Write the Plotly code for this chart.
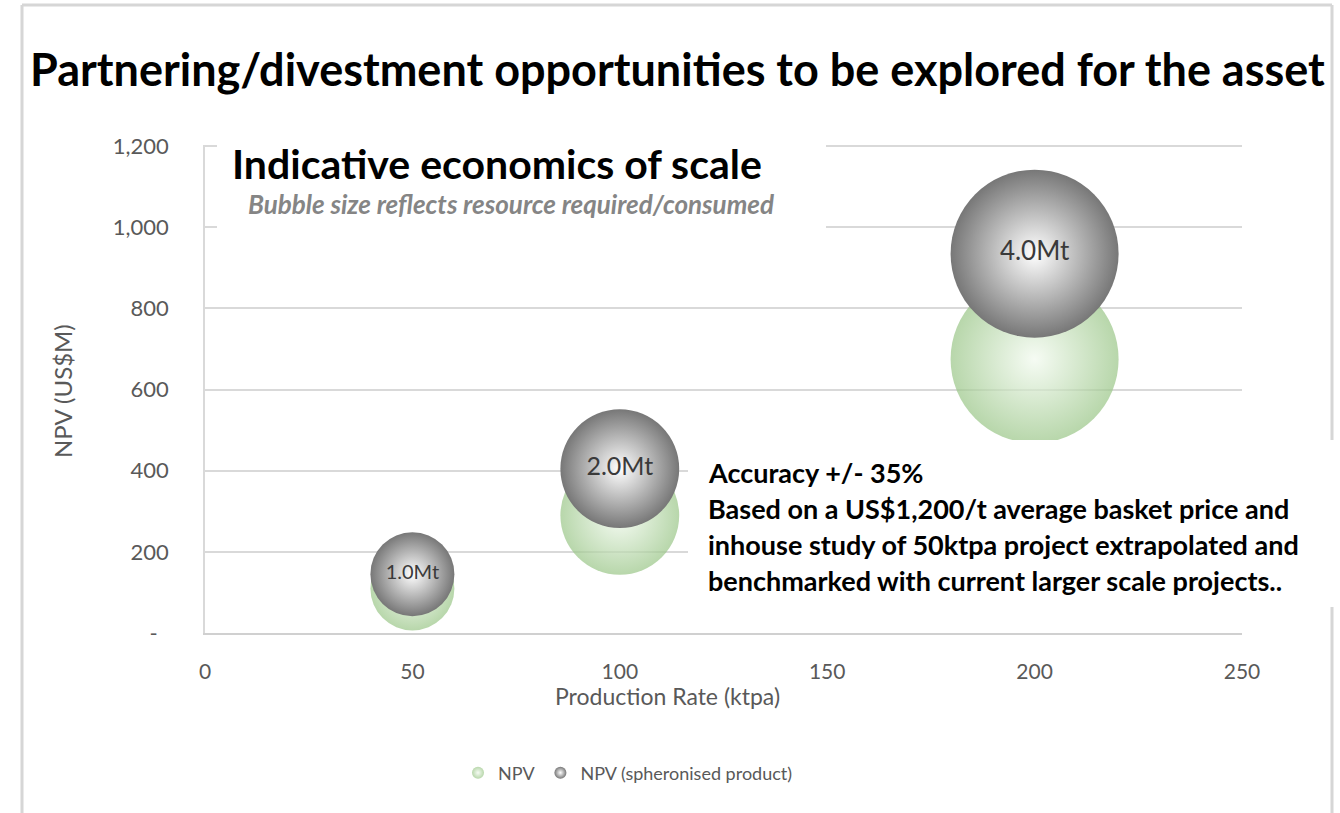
import plotly.graph_objects as go

# Production scenarios and their NPV estimates (US$M)
production_ktpa = [50, 100, 200]
npv_usdm = [110, 290, 675]
npv_spheronised_usdm = [145, 405, 935]
resource_mt = [1.0, 2.0, 4.0]

x_ticks = [0, 50, 100, 150, 200, 250]
y_ticks = [0, 200, 400, 600, 800, 1000, 1200]
y_tick_labels = ["-\u00a0\u00a0", "200", "400", "600", "800", "1,000", "1,200"]
resource_labels = [f"{r:.1f}Mt" for r in resource_mt]

note_lines = [
    "Accuracy +/- 35%",
    "Based on a US$1,200/t average basket price and",
    "inhouse study of 50ktpa project extrapolated and",
    "benchmarked with current larger scale projects..",
]

FONT = "Lato, 'Open Sans', sans-serif"
W, H = 1340, 813
L, R, T, B = 205, 98, 145, 180
PW, PH = W - L - R, H - T - B


def paper_x(px):
    return (px - L) / PW


def paper_y(py):
    return (H - B - py) / PH


# bubble area scales with resource; largest bubble ~168 px across
sizeref = 2.0 * max(resource_mt) / (168 ** 2)

fig = go.Figure()

fig.add_trace(go.Scatter(
    x=production_ktpa, y=npv_usdm, name="NPV", mode="markers",
    marker=dict(size=resource_mt, sizemode="area", sizeref=sizeref,
                color="#9cc78a", opacity=0.72,
                gradient=dict(type="radial", color="#f2faef"),
                line=dict(width=0)),
    hoverinfo="x+y",
))

fig.add_trace(go.Scatter(
    x=production_ktpa, y=npv_spheronised_usdm, name="NPV (spheronised product)",
    mode="markers+text", text=resource_labels, textposition="middle center",
    textfont=dict(family=FONT, size=[20, 25, 26], color="#3a3a3a"),
    marker=dict(size=resource_mt, sizemode="area", sizeref=sizeref,
                color="#777777", opacity=1,
                gradient=dict(type="radial", color="#ffffff"),
                line=dict(width=0)),
    hoverinfo="x+y",
))

border = dict(type="line", xref="paper", yref="paper", layer="above",
              line=dict(color="#d6d6d6", width=3))
shapes = [
    dict(border, x0=paper_x(22), x1=paper_x(22), y0=paper_y(5), y1=paper_y(H + 5)),
    dict(border, x0=paper_x(22), x1=paper_x(1332), y0=paper_y(5), y1=paper_y(5)),
    dict(border, x0=paper_x(1332), x1=paper_x(1332), y0=paper_y(5), y1=paper_y(H + 5)),
    # white panels behind the overlaid headings and notes
    dict(type="rect", xref="paper", yref="paper", layer="above",
         x0=paper_x(217), x1=paper_x(826), y0=paper_y(135), y1=paper_y(240),
         fillcolor="white", line=dict(width=0)),
    dict(type="rect", xref="paper", yref="paper", layer="above",
         x0=paper_x(688), x1=paper_x(W + 10), y0=paper_y(440), y1=paper_y(607),
         fillcolor="white", line=dict(width=0)),
]

annotations = [
    dict(text="Indicative economics of scale", x=paper_x(230), y=paper_y(163),
         xanchor="left", yanchor="middle",
         font=dict(family=FONT, size=41, color="black", weight=700)),
    dict(text="<i>Bubble size reflects resource required/consumed</i>",
         x=paper_x(246), y=paper_y(204), xanchor="left", yanchor="middle",
         font=dict(family=FONT, size=26, color="#858585", weight=700)),
    dict(text="NPV (US$M)", x=paper_x(62), y=paper_y(391), textangle=-90,
         xanchor="center", yanchor="middle",
         font=dict(family=FONT, size=24, color="#595959")),
    dict(text="Production Rate (ktpa)", x=paper_x(667), y=paper_y(696),
         xanchor="center", yanchor="middle",
         font=dict(family=FONT, size=23, color="#595959")),
]
for i, line in enumerate(note_lines):
    annotations.append(dict(
        text=line, x=paper_x(706), y=paper_y(472 + 36 * i),
        xanchor="left", yanchor="middle",
        font=dict(family=FONT, size=27, color="black", weight=700)))
for a in annotations:
    a.update(xref="paper", yref="paper", showarrow=False)

fig.update_layout(
    width=W, height=H,
    margin=dict(l=L, r=R, t=T, b=B, autoexpand=False),
    paper_bgcolor="white", plot_bgcolor="white",
    font=dict(family=FONT, color="#595959"),
    title=dict(text="Partnering/divestment opportunities to be explored for the asset",
               x=30 / W, xanchor="left", y=1 - 70 / H, yanchor="middle",
               font=dict(family=FONT, size=45, color="black", weight=700)),
    xaxis=dict(range=[0, 250], tickvals=x_ticks, showgrid=False, zeroline=False,
               showline=True, linecolor="#d0d0d0", linewidth=1.5, ticks="",
               ticklabelstandoff=19,
               tickfont=dict(family=FONT, size=21, color="#595959")),
    yaxis=dict(range=[0, 1203], tickvals=y_ticks, ticktext=y_tick_labels,
               showgrid=True, gridcolor="#d9d9d9", gridwidth=1.5, zeroline=False,
               showline=True, linecolor="#d9d9d9", linewidth=1.5, ticks="",
               ticklabelstandoff=30,
               tickfont=dict(family=FONT, size=22, color="#595959")),
    showlegend=True,
    legend=dict(orientation="h", x=paper_x(458), xanchor="left",
                y=paper_y(773), yanchor="middle", itemsizing="constant",
                font=dict(family=FONT, size=18, color="#595959"),
                bgcolor="rgba(0,0,0,0)"),
    shapes=shapes,
    annotations=annotations,
)

fig.write_html("out.html")
